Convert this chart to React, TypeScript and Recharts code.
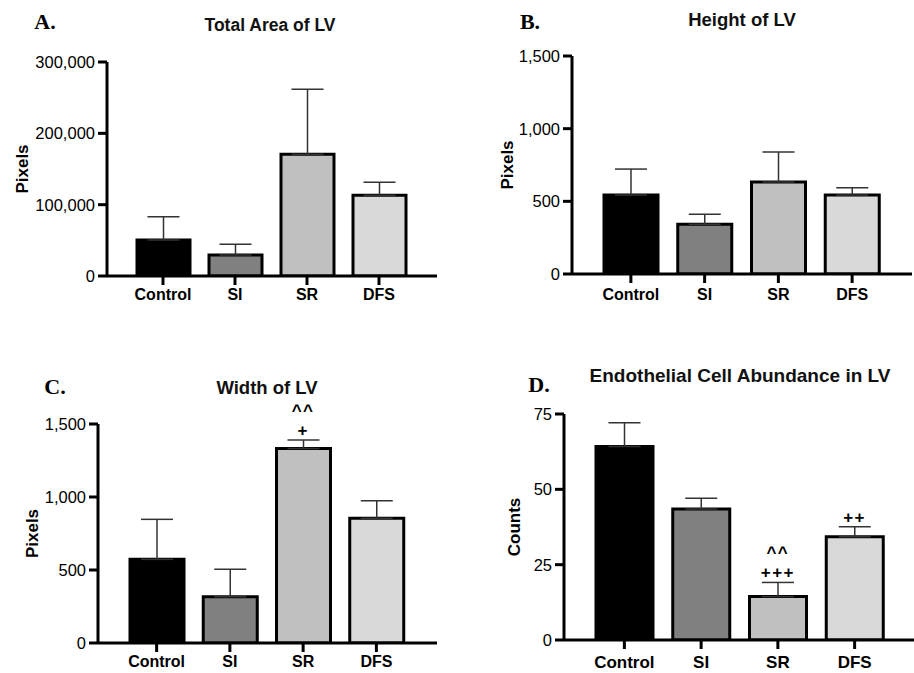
import React from "react";
import {
  ComposedChart,
  Bar,
  Line,
  XAxis,
  YAxis,
  ErrorBar,
  Cell,
  LabelList,
} from "recharts";

const groups = ["Control", "SI", "SR", "DFS"];
const groupFills = ["#000000", "#808080", "#c0c0c0", "#d9d9d9"];

// A. Total area of LV (pixels), mean and SEM
const areaMean = [50500, 29400, 170600, 113100];
const areaSem = [32600, 15000, 91100, 18200];
const areaTicks = [0, 100000, 200000, 300000];

// B. Height of LV (pixels)
const heightMean = [543, 342, 633, 543];
const heightSem = [179, 69, 206, 51];
const heightTicks = [0, 500, 1000, 1500];

// C. Width of LV (pixels)
const widthMean = [573, 317, 1333, 854];
const widthSem = [274, 188, 57, 121];
const widthTicks = [0, 500, 1000, 1500];

// D. Endothelial cell abundance (counts)
const countMean = [64.2, 43.5, 14.4, 34.3];
const countSem = [7.9, 3.5, 4.7, 3.3];
const countTicks = [0, 25, 50, 75];

// significance marks, top line first
const noMarks = [[], [], [], []];
const widthMarks = [[], [], ["^^", "+"], []];
const countMarks = [[], [], ["^^", "+++"], ["++"]];

const sans = "'Liberation Sans', Arial, sans-serif";
const serif = "'Liberation Serif', 'Times New Roman', serif";

function buildRows(mean: number[], sem: number[], marks: string[][]) {
  return groups.map((g, i) => ({
    group: g,
    mean: mean[i],
    err: [0, sem[i]],
    top: mean[i] + sem[i],
    marks: marks[i],
  }));
}

const fmt = (v: number) => v.toLocaleString("en-US");

const renderMarks = (props: any) => {
  const { x, y, value } = props;
  const lines: string[] = Array.isArray(value) ? value : [];
  if (!lines.length) return null;
  return (
    <g>
      {lines.map((s, i) => (
        <text
          key={i}
          x={x}
          y={y - 4 - (lines.length - 1 - i) * 20}
          textAnchor="middle"
          fontFamily={sans}
          fontWeight={700}
          fontSize={17}
          letterSpacing={1.5}
          fill="#000"
        >
          {s}
        </text>
      ))}
    </g>
  );
};

interface PanelProps {
  letter: string;
  title: string;
  titleSize: number;
  yLabel: string;
  rows: any[];
  ticks: number[];
  left: number;
  top: number;
  width: number;
  height: number;
  plotTop: number;
  marginRight: number;
  yAxisWidth: number;
  xAxisHeight: number;
  padLeft: number;
  padRight: number;
  barSize: number;
  xTickMargin: number;
  xTickSize: number;
  letterX: number;
  letterY: number;
  titleX: number;
  titleY: number;
  yLabelX: number;
}

const Panel: React.FC<PanelProps> = (p) => {
  const yMax = p.ticks[p.ticks.length - 1];
  return (
    <div
      style={{
        position: "absolute",
        left: p.left,
        top: p.top,
        width: p.width,
        height: p.height,
      }}
    >
      <div
        style={{
          position: "absolute",
          left: p.letterX,
          top: p.letterY,
          transform: "translate(-50%, -50%)",
          fontFamily: serif,
          fontWeight: 700,
          fontSize: 22,
          lineHeight: 1,
          whiteSpace: "nowrap",
        }}
      >
        {p.letter}
      </div>
      <div
        style={{
          position: "absolute",
          left: p.titleX,
          top: p.titleY,
          transform: "translate(-50%, -50%)",
          fontFamily: sans,
          fontWeight: 700,
          fontSize: p.titleSize,
          lineHeight: 1,
          whiteSpace: "nowrap",
          color: "#111",
        }}
      >
        {p.title}
      </div>
      <ComposedChart
        width={p.width}
        height={p.height}
        data={p.rows}
        margin={{ top: p.plotTop, right: p.marginRight, bottom: 0, left: 0 }}
      >
        <XAxis
          dataKey="group"
          type="category"
          interval={0}
          height={p.xAxisHeight}
          padding={{ left: p.padLeft, right: p.padRight }}
          axisLine={{ stroke: "#000", strokeWidth: 3 }}
          tickLine={{ stroke: "#000", strokeWidth: 3 }}
          tickSize={9}
          tickMargin={p.xTickMargin}
          tick={{ fill: "#000", fontSize: p.xTickSize, fontWeight: 700, fontFamily: sans }}
        />
        <YAxis
          width={p.yAxisWidth}
          domain={[0, yMax]}
          ticks={p.ticks}
          allowDataOverflow
          tickFormatter={fmt}
          axisLine={{ stroke: "#000", strokeWidth: 3 }}
          tickLine={{ stroke: "#000", strokeWidth: 3 }}
          tickSize={9}
          tickMargin={3}
          tick={{ fill: "#000", fontSize: 16.5, fontFamily: sans }}
          label={{
            value: p.yLabel,
            content: (lp: any) => {
              const vb = lp.viewBox || {};
              const cy = vb.y + vb.height / 2;
              return (
                <text
                  x={p.yLabelX}
                  y={cy}
                  transform={`rotate(-90 ${p.yLabelX} ${cy})`}
                  textAnchor="middle"
                  dominantBaseline="central"
                  fontFamily={sans}
                  fontWeight={700}
                  fontSize={17}
                  fill="#000"
                >
                  {p.yLabel}
                </text>
              );
            },
          }}
        />
        <Bar
          dataKey="mean"
          barSize={p.barSize}
          stroke="#000"
          strokeWidth={3}
          isAnimationActive={false}
        >
          {p.rows.map((_, i) => (
            <Cell key={i} fill={groupFills[i]} />
          ))}
          <ErrorBar
            dataKey="err"
            direction="y"
            width={16}
            stroke="#333"
            strokeWidth={1.5}
            isAnimationActive={false}
          />
        </Bar>
        <Line
          dataKey="top"
          stroke="none"
          dot={false}
          activeDot={false}
          legendType="none"
          isAnimationActive={false}
        >
          <LabelList dataKey="marks" content={renderMarks} />
        </Line>
      </ComposedChart>
    </div>
  );
};

export default function App() {
  return (
    <div
      style={{
        position: "absolute",
        left: 0,
        top: 0,
        width: 914,
        height: 673,
        background: "#fff",
        overflow: "hidden",
      }}
    >
      <Panel
        letter="A."
        title="Total Area of LV"
        titleSize={17.5}
        yLabel="Pixels"
        rows={buildRows(areaMean, areaSem, noMarks)}
        ticks={areaTicks}
        left={0}
        top={0}
        width={457}
        height={310}
        plotTop={62}
        marginRight={20}
        yAxisWidth={107}
        xAxisHeight={34}
        padLeft={20}
        padRight={22}
        barSize={53}
        xTickMargin={4}
        xTickSize={16}
        letterX={45}
        letterY={22}
        titleX={270}
        titleY={26}
        yLabelX={22}
      />
      <Panel
        letter="B."
        title="Height of LV"
        titleSize={18.5}
        yLabel="Pixels"
        rows={buildRows(heightMean, heightSem, noMarks)}
        ticks={heightTicks}
        left={457}
        top={0}
        width={457}
        height={310}
        plotTop={56}
        marginRight={2}
        yAxisWidth={115}
        xAxisHeight={36}
        padLeft={22}
        padRight={23}
        barSize={54}
        xTickMargin={6}
        xTickSize={16}
        letterX={73}
        letterY={22}
        titleX={285}
        titleY={20}
        yLabelX={50}
      />
      <Panel
        letter="C."
        title="Width of LV"
        titleSize={18.5}
        yLabel="Pixels"
        rows={buildRows(widthMean, widthSem, widthMarks)}
        ticks={widthTicks}
        left={0}
        top={330}
        width={457}
        height={343}
        plotTop={94}
        marginRight={20}
        yAxisWidth={98}
        xAxisHeight={30}
        padLeft={22}
        padRight={24}
        barSize={54}
        xTickMargin={4}
        xTickSize={16}
        letterX={55}
        letterY={57}
        titleX={267}
        titleY={58}
        yLabelX={32}
      />
      <Panel
        letter="D."
        title="Endothelial Cell Abundance in LV"
        titleSize={19}
        yLabel="Counts"
        rows={buildRows(countMean, countSem, countMarks)}
        ticks={countTicks}
        left={457}
        top={330}
        width={457}
        height={343}
        plotTop={84}
        marginRight={0}
        yAxisWidth={107}
        xAxisHeight={33}
        padLeft={22}
        padRight={21}
        barSize={57}
        xTickMargin={7}
        xTickSize={17}
        letterX={82}
        letterY={55}
        titleX={283}
        titleY={45}
        yLabelX={57}
      />
    </div>
  );
}
